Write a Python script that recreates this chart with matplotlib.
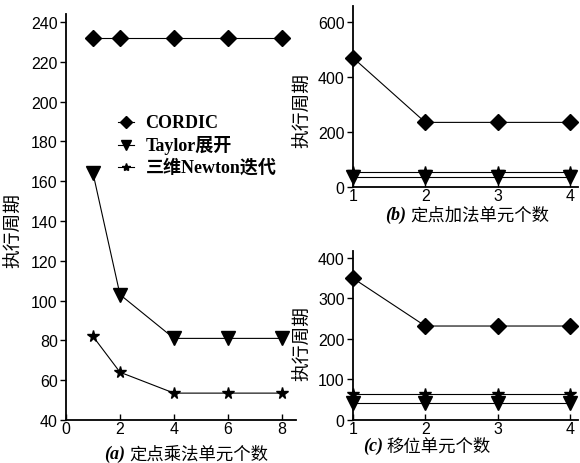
import matplotlib
matplotlib.use("Agg")
import matplotlib.pyplot as plt

# data
x_a = [1, 2, 4, 6, 8]
cordic_a = [232, 232, 232, 232, 232]
taylor_a = [164, 103, 81, 81, 81]
newton_a = [82, 64, 53.5, 53.5, 53.5]

x_bc = [1, 2, 3, 4]
cordic_b = [470, 235, 235, 235]
taylor_b = [36, 36, 36, 36]
newton_b = [56, 56, 56, 56]

cordic_c = [350, 232, 232, 232]
taylor_c = [42, 42, 42, 42]
newton_c = [65, 65, 65, 65]

names = ["CORDIC", "Taylor展开", "三维Newton迭代"]
ylab = "执行周期"

CJK = "Noto Sans CJK SC"
SANS = "Liberation Sans"
SERIF = "Liberation Serif"

plt.rcParams['font.family'] = [SANS, CJK]

fig = plt.figure(figsize=(5.8, 4.64), dpi=100)
ax_a = fig.add_axes([0.1138, 0.0927, 0.3966, 0.875])
ax_b = fig.add_axes([0.6086, 0.5948, 0.388, 0.390])
ax_c = fig.add_axes([0.6086, 0.0927, 0.388, 0.364])


def draw(ax, x, c, t, n):
    l1, = ax.plot(x, c, color='black', lw=0.8, marker='D', ms=8.5, label=names[0])
    l2, = ax.plot(x, t, color='black', lw=0.8, marker='v', ms=9.5, label=names[1])
    l3, = ax.plot(x, n, color='black', lw=0.8, marker='*', ms=8.5, label=names[2])
    for sp in ['top', 'right']:
        ax.spines[sp].set_visible(False)
    ax.spines['left'].set_linewidth(1.3)
    ax.spines['bottom'].set_linewidth(1.3)
    ax.tick_params(axis='y', direction='out', length=4, width=1, labelsize=11.5, pad=2)
    ax.tick_params(axis='x', direction='in', length=4, width=1, labelsize=11.5, pad=1)
    for lab in ax.get_xticklabels() + ax.get_yticklabels():
        lab.set_family(SANS)
    ax.set_ylabel(ylab, family=CJK, fontsize=13.5)
    return [l1, l2, l3]


def sublabel(ax, letter, text, xr, xl, y):
    ax.text(xr, y, "(" + letter + ")", transform=ax.transAxes, ha='right', va='center',
            family=SERIF, fontweight='bold', fontstyle='italic', fontsize=13, clip_on=False)
    ax.text(xl, y, text, transform=ax.transAxes, ha='left', va='center',
            family=CJK, fontsize=12.5, clip_on=False)


handles = draw(ax_a, x_a, cordic_a, taylor_a, newton_a)
ax_a.set_xlim(0, 8.52)
ax_a.set_ylim(40, 244)
ax_a.set_xticks([0, 2, 4, 6, 8])
ax_a.set_yticks(range(40, 241, 20))
ax_a.yaxis.set_label_coords(-0.183, 0.47)
sublabel(ax_a, "a", "定点乘法单元个数", 0.257, 0.275, -0.082)

leg = ax_a.legend(handles=handles, loc='upper left', bbox_to_anchor=(0.17, 0.785),
                  frameon=False, handlelength=1.2, handletextpad=0.8, labelspacing=0.3,
                  markerscale=0.7)
for txt in leg.get_texts():
    txt.set_family([SERIF, CJK])
    txt.set_fontweight('bold')
    txt.set_fontsize(13)

draw(ax_b, x_bc, cordic_b, taylor_b, newton_b)
ax_b.set_xlim(1, 4.11)
ax_b.set_ylim(0, 658)
ax_b.set_xticks([1, 2, 3, 4])
ax_b.set_yticks([0, 200, 400, 600])
ax_b.yaxis.set_label_coords(-0.178, 0.43)
sublabel(ax_b, "b", "定点加法单元个数", 0.236, 0.253, -0.15)

draw(ax_c, x_bc, cordic_c, taylor_c, newton_c)
ax_c.set_xlim(1, 4.11)
ax_c.set_ylim(0, 417)
ax_c.set_xticks([1, 2, 3, 4])
ax_c.set_yticks([0, 100, 200, 300, 400])
ax_c.yaxis.set_label_coords(-0.178, 0.456)
sublabel(ax_c, "c", "移位单元个数", 0.133, 0.151, -0.152)

for ax in [ax_a, ax_b, ax_c]:
    for line in ax.get_lines():
        line.set_clip_on(False)

fig.savefig("out.png", dpi=100)
